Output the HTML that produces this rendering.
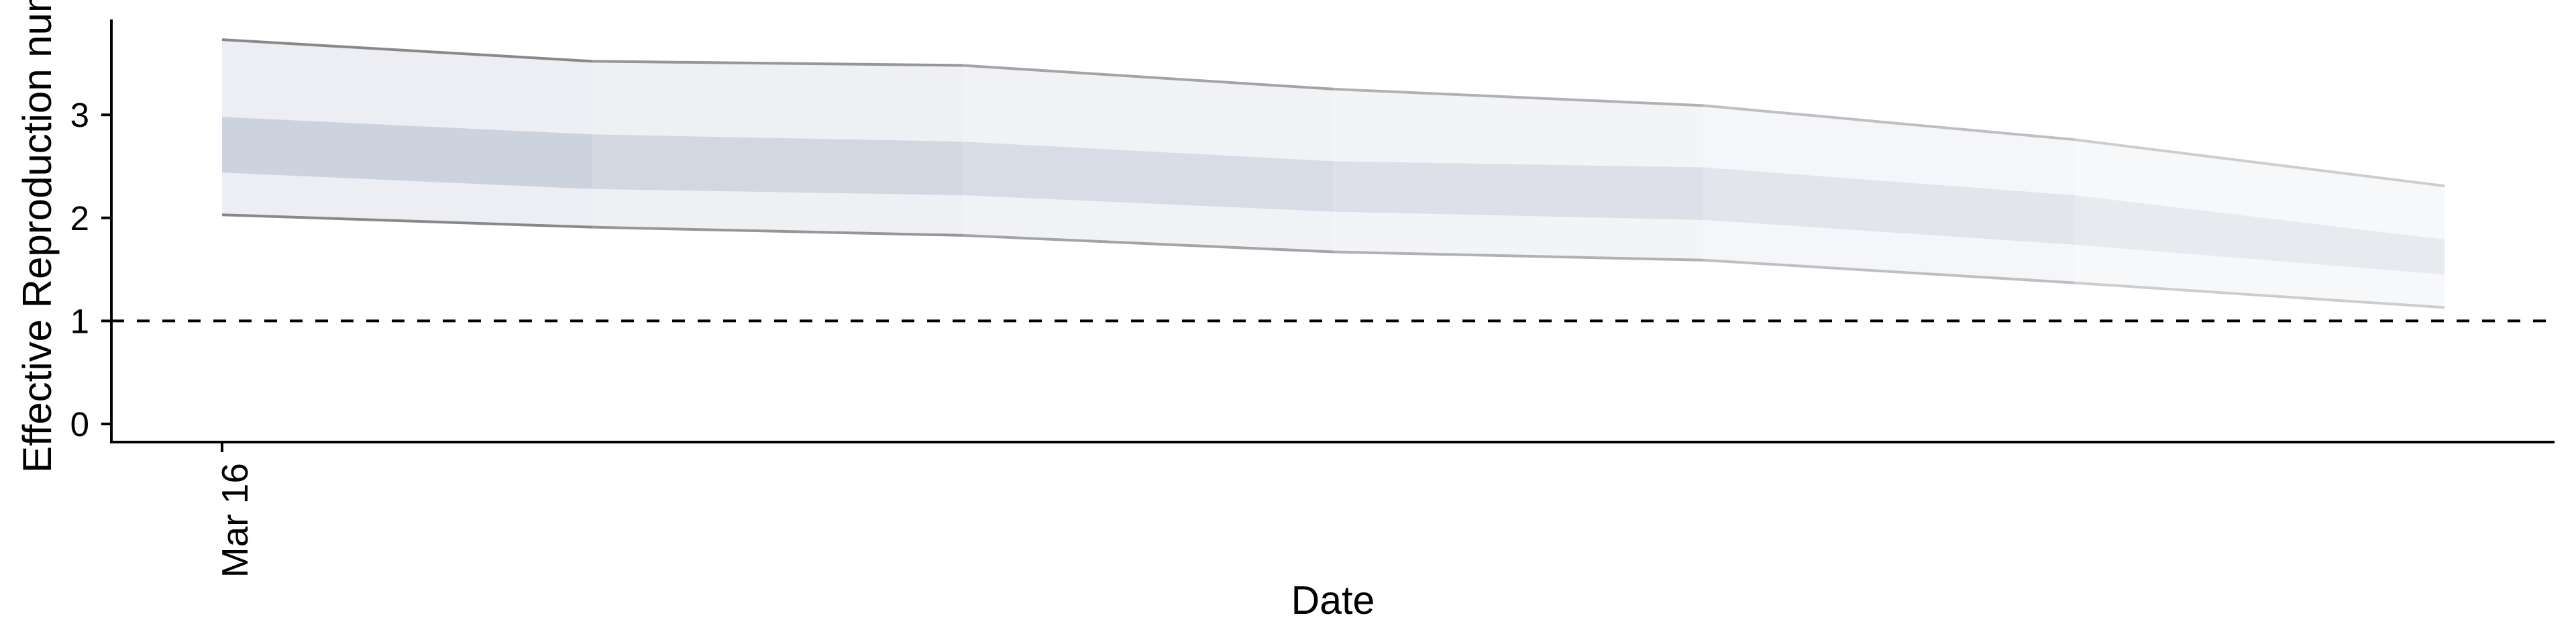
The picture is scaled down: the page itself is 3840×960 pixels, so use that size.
<!DOCTYPE html>
<html><head><meta charset="utf-8"><style>
html,body{margin:0;padding:0;background:#fff;}
svg{display:block;font-family:"Liberation Sans",Arial,sans-serif;}
</style></head><body>
<svg id="chart" width="3840" height="960" viewBox="0 0 3840 960" xmlns="http://www.w3.org/2000/svg">
<g id="bands"></g>
<g id="lines"></g>
<g id="axes"></g>
</svg>
<script>
const dayIndex = [0, 1, 2, 3, 4, 5, 6];
const upper90 = [3.73, 3.52, 3.48, 3.25, 3.09, 2.76, 2.31];
const upper50 = [2.98, 2.81, 2.74, 2.55, 2.49, 2.22, 1.79];
const lower50 = [2.44, 2.28, 2.22, 2.06, 1.98, 1.74, 1.45];
const lower90 = [2.03, 1.91, 1.83, 1.67, 1.59, 1.37, 1.13];
const yTicks = [0, 1, 2, 3];
const xTickLabels = ["Mar 16"];
const xTickIdx = [0];
const refLine = 1;

const NS = "http://www.w3.org/2000/svg";
const X0 = 331, DX = 552.2;
function xs(i){ return X0 + i * DX; }
function ys(v){ return 632 - v * 153.6; }
function mk(tag, attrs, parent){
  const e = document.createElementNS(NS, tag);
  for (const k in attrs) e.setAttribute(k, attrs[k]);
  parent.appendChild(e);
  return e;
}
function mix(a, b, t){ return a.map((v,i)=>Math.round(v+(b[i]-v)*t)); }
const bands = document.getElementById('bands');
const lines = document.getElementById('lines');
const axes = document.getElementById('axes');
const n = dayIndex.length;
for (let i = 0; i < n - 1; i++) {
  const t = i / (n - 2);
  const oc = mix([237,238,243],[247,248,250],t);
  const ic = mix([205,210,223],[233,234,240],t);
  const lc = mix([136,136,136],[205,205,205],t);
  const a = dayIndex[i], b = dayIndex[i+1];
  const outer = mk('polygon', {points:`${xs(a)},${ys(upper90[i])} ${xs(b)},${ys(upper90[i+1])} ${xs(b)},${ys(lower90[i+1])} ${xs(a)},${ys(lower90[i])}`, fill:`rgb(${oc})`}, bands);
  
  
  const inner = mk('polygon', {points:`${xs(a)},${ys(upper50[i])} ${xs(b)},${ys(upper50[i+1])} ${xs(b)},${ys(lower50[i+1])} ${xs(a)},${ys(lower50[i])}`, fill:`rgb(${ic})`}, bands);
  
  
  const lu = mk('line', {x1:xs(a), y1:ys(upper90[i]), x2:xs(b), y2:ys(upper90[i+1]), stroke:`rgb(${lc})`, 'stroke-width':4}, lines);
  
  
  const ll = mk('line', {x1:xs(a), y1:ys(lower90[i]), x2:xs(b), y2:ys(lower90[i+1]), stroke:`rgb(${lc})`, 'stroke-width':4}, lines);
  
  
}
const ref = mk('line', {x1:166, x2:3808, y1:ys(refLine), y2:ys(refLine), stroke:'#000', 'stroke-width':4, 'stroke-dasharray':'19,19'}, axes);


const ya = mk('line', {x1:166, x2:166, y1:29, y2:661, stroke:'#000', 'stroke-width':4}, axes);


const xa = mk('line', {x1:164, x2:3808, y1:659, y2:659, stroke:'#000', 'stroke-width':4}, axes);


yTicks.forEach(v => {
  const tk = mk('line', {x1:151, x2:166, y1:ys(v), y2:ys(v), stroke:'#000', 'stroke-width':4}, axes);
  
  
  const tl = mk('text', {x:133, y:ys(v)+18, 'text-anchor':'end', 'font-size':51, fill:'#000'}, axes);
  
  
  tl.textContent = v;
});
xTickIdx.forEach((d, k) => {
  const x = xs(d);
  const tk = mk('line', {x1:x, x2:x, y1:659, y2:674, stroke:'#000', 'stroke-width':4}, axes);
  
  
  const tl = mk('text', {x:0, y:0, 'text-anchor':'end', 'font-size':55, fill:'#000', transform:`translate(${x+38},690) rotate(-90)`}, axes);
  
  
  tl.textContent = xTickLabels[k];
});
const xt = mk('text', {x:1987, y:915, 'text-anchor':'middle', 'font-size':59, fill:'#000'}, axes);


xt.textContent = 'Date';
const yt = mk('text', {x:0, y:0, 'text-anchor':'start', 'font-size':60, fill:'#000', transform:'translate(76,705) rotate(-90)'}, axes);


yt.textContent = 'Effective Reproduction number';
</script>
</body></html>
